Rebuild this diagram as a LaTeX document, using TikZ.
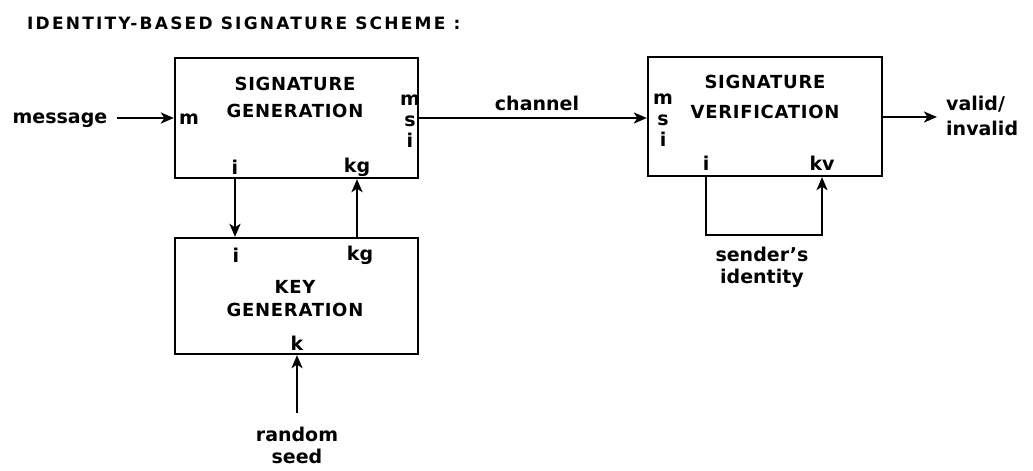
\documentclass[tikz,border=0pt]{standalone}
\usepackage{fontspec}
\setmainfont{DejaVu Sans}
\newfontfamily\capfont[LetterSpace=4]{DejaVu Sans}
\newfontfamily\ttlfont[LetterSpace=13]{DejaVu Sans}
\usetikzlibrary{arrows.meta}
\begin{document}
\begin{tikzpicture}[x=1pt,y=-1pt,
  box/.style={draw, line width=2.3pt, inner sep=0pt},
  lab/.style={inner sep=0pt, font=\bfseries\fontsize{19}{22}\selectfont, align=center},
  stack/.style={inner sep=0pt, font=\bfseries\fontsize{19}{21}\selectfont, align=center},
  capstxt/.style={inner sep=0pt, align=center},
  conn/.style={line width=2.1pt, -{Stealth[length=13pt,width=11pt,inset=3.5pt]}}]
\useasboundingbox (0,0) rectangle (1033,471);

\node[anchor=west, inner sep=0pt, font=\ttlfont\bfseries\fontsize{17}{17}\selectfont] (title) at (27,23) {IDENTITY-BASED SIGNATURE SCHEME :};

% boxes
\node[box, minimum width=243pt, minimum height=120pt] (sg) at (296.5,118) {};
\node[box, minimum width=243pt, minimum height=116pt] (kg) at (296.5,296) {};
\node[box, minimum width=234pt, minimum height=119pt] (sv) at (765,116.5) {};

% signature generation labels
\node[capstxt, font=\capfont\bfseries\fontsize{18}{27}\selectfont] (sgt) at (295,97.5) {SIGNATURE\\GENERATION};
\node[lab] (sgm) at (189,119) {m};
\node[stack] (sgr) at (410,121) {m\\s\\i};
\node[lab] (sgi) at (235,167) {i};
\node[lab] (sgkg) at (357,167) {kg};

% key generation labels
\node[capstxt, font=\capfont\bfseries\fontsize{18}{23}\selectfont] (kgt) at (295,298.5) {KEY\\GENERATION};
\node[lab] (kgi) at (236,255) {i};
\node[lab] (kgkg) at (360,255) {kg};
\node[lab] (kgk) at (297,343) {k};
\node[lab] (seed) at (297,445) {random\\seed};

% signature verification labels
\node[capstxt, font=\capfont\bfseries\fontsize{18}{30}\selectfont] (svt) at (765,97) {SIGNATURE\\VERIFICATION};
\node[stack] (svl) at (663,120) {m\\s\\i};
\node[lab] (svi) at (706,163) {i};
\node[lab] (svkv) at (822,163) {kv};

% free labels
\node[lab] (msg) at (60,120) {message};
\node[lab] (chan) at (537,103) {channel};
\node[lab, align=left, anchor=west, font=\bfseries\fontsize{19}{25}\selectfont] (valid) at (946,116) {valid/\\invalid};
\node[lab] (sid) at (762,267) {sender’s\\identity};

% coordinates
\coordinate (msgend) at (117,118);
\coordinate (seedtop) at (297,413);
\coordinate (vout) at (937,117);
\coordinate (loop) at (707,235);

% connectors
\draw[conn] (msgend) -- (msgend -| sg.west);
\draw[conn] (sgi |- sg.south) -- (sgi |- kg.north);
\draw[conn] (sgkg |- kg.north) -- (sgkg |- sg.south);
\draw[conn] (seedtop) -- (seedtop |- kg.south);
\draw[conn] (sg.east) -- (sg.east -| sv.west);
\draw[conn] (sv.east |- vout) -- (vout);
\draw[conn] (svi |- sv.south) -- (svi |- loop) -- (svkv |- loop) -- (svkv |- sv.south);
\end{tikzpicture}
\end{document}
